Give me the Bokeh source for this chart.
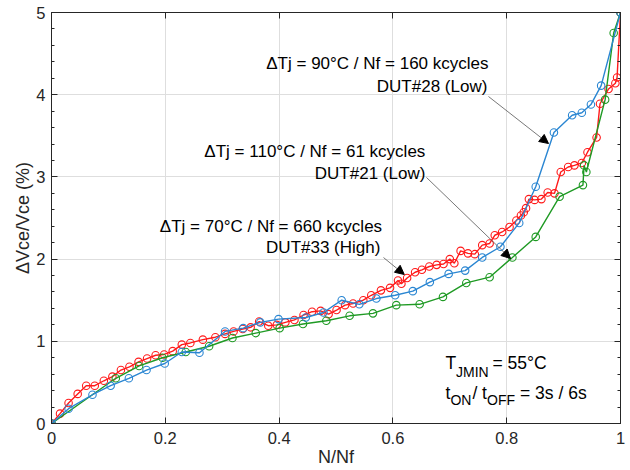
from bokeh.plotting import figure
from bokeh.models import LinearAxis, FixedTicker, Arrow, NormalHead, Label, Range1d
from bokeh.embed import file_html
from bokeh.resources import INLINE

# ---- data ----
red_x = [0, 0.015, 0.030, 0.046, 0.061, 0.076, 0.092, 0.107, 0.122, 0.137, 0.153, 0.168,
         0.183, 0.198, 0.213, 0.229, 0.244, 0.266, 0.288, 0.305, 0.320, 0.336, 0.350, 0.365,
         0.381, 0.396, 0.411, 0.427, 0.443, 0.458, 0.473, 0.487, 0.501, 0.516, 0.530, 0.548,
         0.562, 0.579, 0.595, 0.609, 0.615, 0.625, 0.639, 0.651, 0.664, 0.677, 0.689, 0.700,
         0.708, 0.719, 0.732, 0.744, 0.757, 0.770, 0.779, 0.792, 0.805, 0.817, 0.825, 0.830,
         0.834, 0.839, 0.849, 0.861, 0.872, 0.884, 0.895, 0.908, 0.919, 0.932, 0.942, 0.958,
         0.964, 0.979, 0.991, 0.994, 1.0]
red_y = [0, 0.12, 0.25, 0.36, 0.46, 0.46, 0.52, 0.57, 0.65, 0.69, 0.75, 0.79,
         0.83, 0.84, 0.88, 0.96, 0.98, 1.02, 1.05, 1.09, 1.12, 1.15, 1.17, 1.24,
         1.19, 1.20, 1.23, 1.26, 1.32, 1.36, 1.37, 1.33, 1.38, 1.44, 1.46, 1.50,
         1.56, 1.62, 1.65, 1.74, 1.70, 1.77, 1.84, 1.87, 1.91, 1.93, 1.94, 2.00,
         1.95, 2.10, 2.07, 2.06, 2.17, 2.19, 2.29, 2.33, 2.39, 2.47, 2.53, 2.57,
         2.62, 2.73, 2.72, 2.73, 2.81, 2.80, 3.06, 3.12, 3.14, 3.17, 3.30, 3.48,
         3.89, 4.07, 4.14, 4.21, 5.0]

blue_x = [0, 0.030, 0.072, 0.104, 0.136, 0.167, 0.199, 0.229, 0.260, 0.305, 0.337, 0.367,
          0.399, 0.447, 0.478, 0.510, 0.541, 0.571, 0.604, 0.635, 0.665, 0.698, 0.727, 0.757,
          0.789, 0.822, 0.851, 0.883, 0.915, 0.932, 0.948, 0.966, 1.0]
blue_y = [0, 0.18, 0.35, 0.46, 0.55, 0.65, 0.73, 0.87, 0.86, 1.12, 1.16, 1.23,
          1.27, 1.29, 1.35, 1.50, 1.45, 1.52, 1.56, 1.61, 1.72, 1.82, 1.86, 2.02,
          2.15, 2.44, 2.88, 3.54, 3.75, 3.78, 3.88, 4.11, 5.0]

green_x = [0, 0.113, 0.154, 0.195, 0.236, 0.277, 0.318, 0.359, 0.401, 0.442, 0.483, 0.524,
           0.565, 0.606, 0.647, 0.688, 0.729, 0.770, 0.810, 0.851, 0.893, 0.934, 0.936, 0.940,
           0.973, 0.988, 1.0]
green_y = [0, 0.55, 0.70, 0.80, 0.87, 0.94, 1.04, 1.10, 1.16, 1.21, 1.25, 1.31,
           1.34, 1.44, 1.45, 1.54, 1.71, 1.78, 2.02, 2.27, 2.76, 2.90, 3.14, 3.06,
           3.94, 4.75, 5.0]

x_ticks = [0, 0.2, 0.4, 0.6, 0.8, 1]
x_tick_labels = ["0", "0.2", "0.4", "0.6", "0.8", "1"]
y_ticks = [0, 1, 2, 3, 4, 5]
y_minor_ticks = [0.2, 0.4, 0.6, 0.8, 1.2, 1.4, 1.6, 1.8, 2.2, 2.4, 2.6, 2.8,
                 3.2, 3.4, 3.6, 3.8, 4.2, 4.4, 4.6, 4.8]

RED = "#ff1a1a"
BLUE = "#2a86d2"
GREEN = "#1f9a24"
AX = "#262626"
FONT = "Liberation Sans"

p = figure(width=630, height=470, x_range=Range1d(0, 1), y_range=Range1d(0, 5),
           output_backend="svg", toolbar_location=None,
           min_border_left=51, min_border_right=10, min_border_top=12, min_border_bottom=47)
p.background_fill_color = "white"
p.border_fill_color = "white"
p.outline_line_color = AX
p.outline_line_width = 1

# grids
p.xgrid.grid_line_color = "#dedede"
p.ygrid.grid_line_color = "#dedede"
p.xgrid.grid_line_width = 1
p.ygrid.grid_line_width = 1

xt = FixedTicker(ticks=x_ticks)
yt = FixedTicker(ticks=y_ticks, minor_ticks=y_minor_ticks)
overrides = dict(zip(x_ticks, x_tick_labels))


def style_axis(ax, show_labels):
    ax.axis_line_color = AX
    ax.major_tick_line_color = AX
    ax.minor_tick_line_color = AX
    ax.major_tick_in = 6
    ax.major_tick_out = 0
    ax.minor_tick_in = 3
    ax.minor_tick_out = 0
    ax.major_label_text_font = FONT
    if show_labels:
        ax.major_label_text_color = AX
        ax.major_label_text_font_size = "16.5px"
        ax.major_label_standoff = 6
    else:
        ax.major_label_text_color = None
        ax.major_label_text_font_size = "1px"
        ax.major_label_standoff = 0
    ax.axis_label_text_font = FONT
    ax.axis_label_text_font_style = "normal"
    ax.axis_label_text_color = AX
    ax.axis_label_text_font_size = "18px"


xa = p.xaxis[0]
xa.ticker = xt
xa.major_label_overrides = overrides
xa.axis_label = "N/Nf"
style_axis(xa, True)
xa.minor_tick_line_color = None
xa.major_label_standoff = 8
xa.axis_label_standoff = 0

ya = p.yaxis[0]
ya.ticker = yt
ya.axis_label = "ΔVce/Vce (%)"
style_axis(ya, True)
ya.axis_label_standoff = 0

top = LinearAxis(ticker=FixedTicker(ticks=x_ticks))
style_axis(top, False)
top.minor_tick_line_color = None
p.add_layout(top, "above")

right = LinearAxis(ticker=FixedTicker(ticks=y_ticks, minor_ticks=y_minor_ticks))
style_axis(right, False)
p.add_layout(right, "right")

# series
for xs, ys, c in [(red_x, red_y, RED), (green_x, green_y, GREEN), (blue_x, blue_y, BLUE)]:
    p.line(xs, ys, line_color=c, line_width=1.4)
    p.scatter(xs, ys, marker="circle", size=7.5, fill_color=None, line_color=c, line_width=1.1)

# annotations
ann = [
    ("ΔTj = 90°C / Nf = 160 kcycles", 0.768, 4.380),
    ("DUT#28 (Low)", 0.766, 4.100),
    ("ΔTj = 110°C / Nf = 61 kcycles", 0.657, 3.309),
    ("DUT#21 (Low)", 0.657, 3.041),
    ("ΔTj = 70°C / Nf = 660 kcycles", 0.581, 2.397),
    ("DUT#33 (High)", 0.578, 2.145),
]
for t, x, y in ann:
    p.add_layout(Label(x=x, y=y, text=t, text_align="right", text_baseline="middle",
                       text_font=FONT, text_font_size="17px", text_color="black"))

arrows = [
    (0.768, 3.978, 0.8735, 3.406),
    (0.659, 2.993, 0.8067, 2.007),
    (0.5835, 2.019, 0.620, 1.813),
]
for xs_, ys_, xe, ye in arrows:
    p.add_layout(Arrow(end=NormalHead(size=9, fill_color="black", line_color="black"),
                       x_start=xs_, y_start=ys_, x_end=xe, y_end=ye,
                       line_color="#555555", line_width=0.8))

pieces = [
    ("T", 0.6924, 0.742, "17.5px"),
    ("JMIN", 0.7109, 0.627, "14px"),
    ("= 55°C", 0.7750, 0.742, "17.5px"),
    ("t", 0.6924, 0.377, "17.5px"),
    ("ON", 0.7012, 0.280, "14px"),
    ("/", 0.7399, 0.377, "17.5px"),
    ("t", 0.7566, 0.377, "17.5px"),
    ("OFF", 0.7654, 0.280, "14px"),
    ("= 3s / 6s", 0.8234, 0.377, "17.5px"),
]
for t, x, y, fs in pieces:
    p.add_layout(Label(x=x, y=y, text=t, text_align="left", text_baseline="middle",
                       text_font=FONT, text_font_size=fs, text_color="black"))

open("out.html", "w").write(file_html(p, INLINE))
